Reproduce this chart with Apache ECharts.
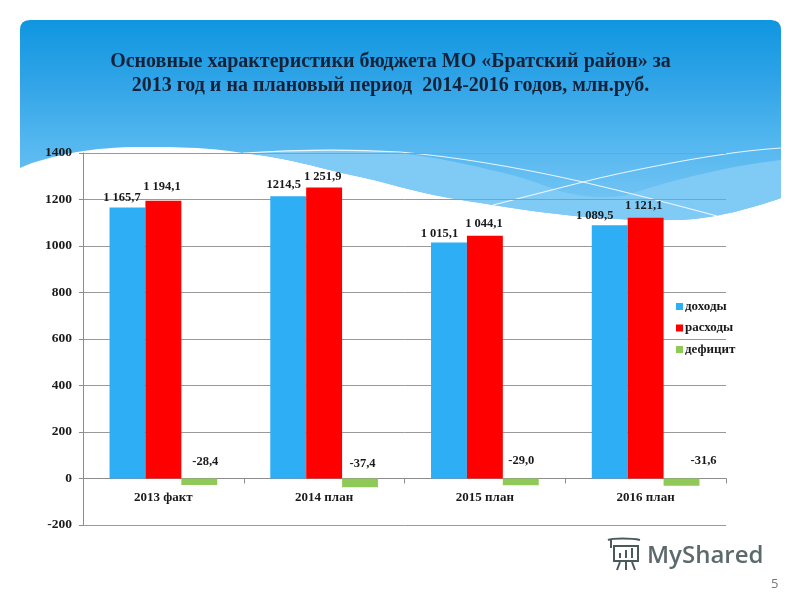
<!DOCTYPE html>
<html><head><meta charset="utf-8">
<style>html,body{margin:0;padding:0;background:#fff}#c{width:800px;height:600px}</style>
<script src="https://cdn.jsdelivr.net/npm/echarts@6/dist/echarts.min.js"></script>
</head><body><div id="c"></div>
<script>
const categories = ['2013 факт', '2014 план', '2015 план', '2016 план'];
const income = [1165.7, 1214.5, 1015.1, 1089.5];
const expense = [1194.1, 1251.9, 1044.1, 1121.1];
const deficit = [-28.4, -37.4, -29.0, -31.6];
const incomeLabels = ['1 165,7', '1214,5', '1 015,1', '1 089,5'];
const expenseLabels = ['1 194,1', '1 251,9', '1 044,1', '1 121,1'];
const deficitLabels = ['-28,4', '-37,4', '-29,0', '-31,6'];
const incomeOffsets = [[-5.5, -3.5], [-4.5, -5], [-9.5, -2.5], [-15, -3]];
const expenseOffsets = [[-1.5, -8], [-1.5, -4.4], [-1, -5.8], [-2, -6]];
const deficitOffsets = [[6, -10.5], [2.5, -8.5], [0.5, -11.5], [22, -11.5]];

const FONT = '"Liberation Serif", serif';
const chart = echarts.init(document.getElementById('c'), null, {renderer: 'canvas'});
function mkSeries(name, vals, labels, offs, color) {
  return {
    name, type: 'bar', barGap: 0, barCategoryGap: '33%',
    itemStyle: {color},
    data: vals.map((v, i) => ({
      value: v,
      label: {show: true, position: 'top', distance: 0, offset: offs[i],
        formatter: labels[i], fontFamily: FONT, fontWeight: 'bold', fontSize: 12.5, color: '#1a1a1a'}
    }))
  };
}
const WAVE = 'C752,208 715,219 677,220 C620,221 567,217 493,205 C460,200 430,195 400,187 C365,177 335,172 310,165 C285,159 268,156 250,154 C230,151 215,149 197,148 C175,147 160,147 143,147 C115,147 95,149 77,152 C55,156 35,161 20,168';
function shape(name, d) { echarts.graphic.registerShape(name, echarts.graphic.extendPath(d, {})); return name; }
shape('bgBlue', 'M20,30 Q20,20 30,20 L771,20 Q781,20 781,30 L781,198 ' + WAVE + ' Z');
shape('bgBand', 'M246,153 C290,149 350,148 400,153 C440,158 470,165 500,172 C525,178 540,184 557,190 C580,198 615,200 633,193 C680,178 730,166 781,160 L781,198 C752,208 715,219 677,220 C620,221 567,217 493,205 C460,200 430,195 400,187 C365,177 335,172 310,165 C285,159 268,156 246,153 Z');
shape('line1', 'M243,153 C290,150 345,149 400,152 C470,158 530,170 583,182 C630,193 680,206 717,216');
shape('line2', 'M493,205 C525,197 555,189 583,182 C615,174 645,168 677,162 C710,156 745,150 781,148');
shape('logoIcon', 'M608,540 C612,538 632,538 640,540 M611,540 L611,548 M614,546 L638,546 L638,561 L614,561 Z M620,558 L620,553 M626,558 L626,550 M632,558 L632,548 M620,562 L617,570 M632,562 L635,570 M626,562 L626,570');
chart.setOption({
  animation: false,
  backgroundColor: '#fff',
  title: {
    text: 'Основные характеристики бюджета МО «Братский район» за\n2013 год и на плановый период  2014-2016 годов, млн.руб.',
    left: 385.5, top: 45, textAlign: 'center',
    textStyle: {fontFamily: FONT, fontWeight: 'bold', fontSize: 20, lineHeight: 24, color: '#14233a'}
  },
  graphic: [
    {type: 'bgBlue', z: -10, style: {fill: new echarts.graphic.LinearGradient(0, 0, 0, 1, [
        {offset: 0, color: '#0f96e0'}, {offset: 0.35, color: '#35a6e8'}, {offset: 0.6, color: '#52b6ef'}, {offset: 1, color: '#7cc8f4'}])}},
    {type: 'bgBand', z: -9, style: {fill: '#80cbf6'}},
    {type: 'line1', z: -8, style: {fill: 'none', stroke: 'rgba(255,255,255,0.85)', lineWidth: 1.2}},
    {type: 'line2', z: -8, style: {fill: 'none', stroke: 'rgba(255,255,255,0.85)', lineWidth: 1.2}},
    {type: 'text', z: 5, x: 647, y: 544, style: {text: 'MyShared', fontFamily: '"Open Sans"', fontSize: 24, fontWeight: 600, fill: '#5d6a6c'}},
    {type: 'logoIcon', z: 5, style: {fill: 'none', stroke: '#4a5a5c', lineWidth: 2}},
    {type: 'text', z: 5, x: 771, y: 578, style: {text: '5', fontFamily: '"Open Sans"', fontSize: 13, fill: '#777777'}}
  ],
  legend: {
    orient: 'vertical', left: 671, top: 295, itemWidth: 7, itemHeight: 7, itemGap: 8.5,
    icon: 'rect',
    textStyle: {fontFamily: FONT, fontWeight: 'bold', fontSize: 13, color: '#1a1a1a', padding: [0, 0, 0, -3]},
    data: ['доходы', 'расходы', 'дефицит']
  },
  grid: {left: 83, right: 74, top: 153, height: 372, containLabel: false},
  xAxis: {
    type: 'category', data: categories,
    axisLine: {onZero: true, lineStyle: {color: '#8c8c8c'}},
    axisTick: {show: true, length: 5, inside: false, lineStyle: {color: '#8c8c8c'}},
    axisLabel: {fontFamily: FONT, fontWeight: 'bold', fontSize: 13, color: '#1a1a1a', margin: -34}
  },
  yAxis: {
    type: 'value', min: -200, max: 1400, interval: 200,
    axisLine: {show: true, lineStyle: {color: '#8c8c8c'}},
    axisTick: {show: true, length: 4, lineStyle: {color: '#8c8c8c'}},
    axisLabel: {fontFamily: FONT, fontWeight: 'bold', fontSize: 13.5, color: '#1a1a1a', margin: 11, formatter: v => String(v)},
    splitLine: {show: true, lineStyle: {color: '#999999'}}
  },
  series: [
    mkSeries('доходы', income, incomeLabels, incomeOffsets, '#2eaef5'),
    mkSeries('расходы', expense, expenseLabels, expenseOffsets, '#fe0000'),
    mkSeries('дефицит', deficit, deficitLabels, deficitOffsets, '#8fc957')
  ]
});
</script></body></html>
